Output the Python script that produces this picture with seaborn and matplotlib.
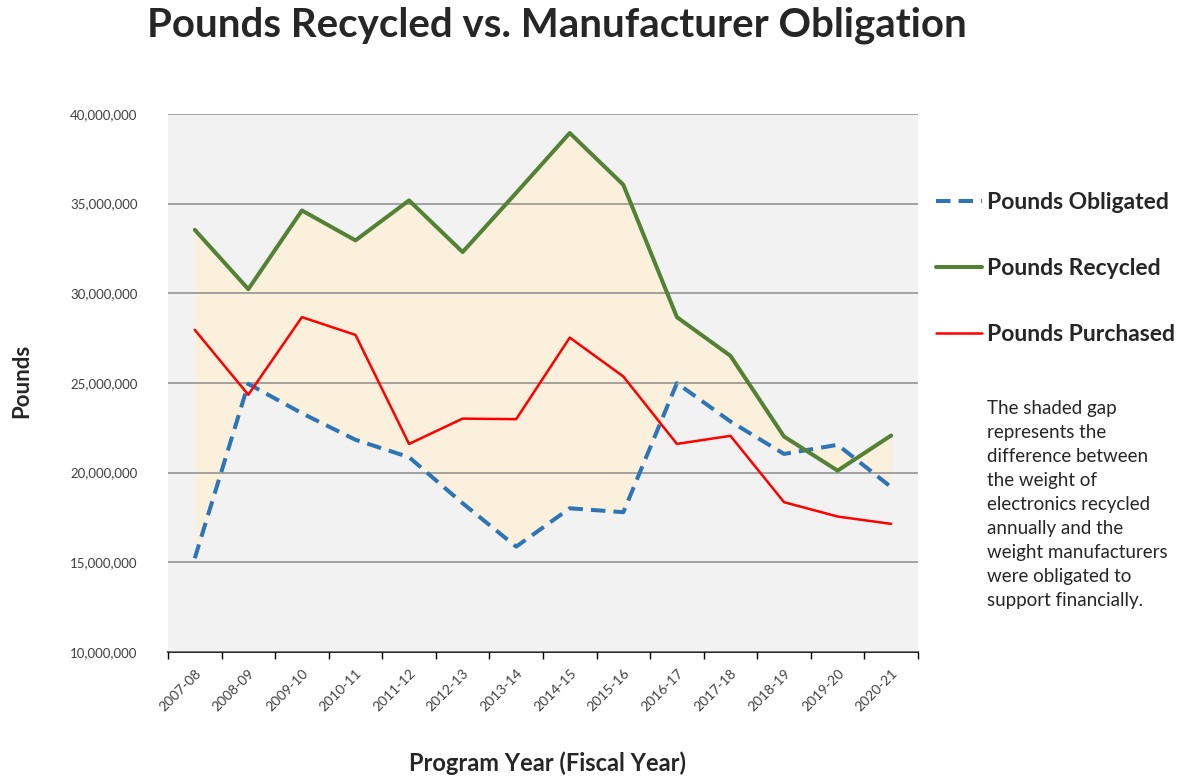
import matplotlib
matplotlib.use("Agg")
import matplotlib.pyplot as plt
import seaborn as sns
import pandas as pd
import numpy as np
from matplotlib.ticker import FuncFormatter, FixedLocator, NullFormatter
from matplotlib.lines import Line2D

years = ["2007-08", "2008-09", "2009-10", "2010-11", "2011-12", "2012-13", "2013-14",
         "2014-15", "2015-16", "2016-17", "2017-18", "2018-19", "2019-20", "2020-21"]
obligated = [15.22, 24.95, 23.31, 21.83, 20.86, 18.29, 15.87,
             18.01, 17.79, 24.99, 22.85, 21.04, 21.55, 19.19]
recycled = [33.54, 30.23, 34.62, 32.95, 35.18, 32.30, 35.60,
            38.94, 36.05, 28.67, 26.51, 22.01, 20.11, 22.07]
purchased = [27.96, 24.34, 28.67, 27.68, 21.60, 23.01, 22.98,
             27.53, 25.36, 21.60, 22.05, 18.35, 17.55, 17.14]
yticks = [10, 15, 20, 25, 30, 35, 40]

sns.set_style("white")
plt.rcParams["font.family"] = ["Lato", "DejaVu Sans"]

x = np.arange(len(years))
df = pd.DataFrame({
    "x": np.tile(x, 3),
    "value": np.array(obligated + recycled + purchased) * 1e6,
    "series": ["Pounds Obligated"] * 14 + ["Pounds Recycled"] * 14 + ["Pounds Purchased"] * 14,
})

fig = plt.figure(figsize=(11.88, 7.77), dpi=100)
ax = fig.add_axes([0.1414, 0.161, 0.6313, 0.6923])
ax.set_facecolor("#F2F2F2")

ax.fill_between(x, np.array(obligated) * 1e6, np.array(recycled) * 1e6,
                color="#FAF0DC", linewidth=0, zorder=1)

palette = {"Pounds Obligated": "#2E75B6", "Pounds Recycled": "#548235", "Pounds Purchased": "#FF0000"}
sns.lineplot(data=df, x="x", y="value", hue="series", palette=palette, ax=ax,
             legend=False, zorder=3)
lines = ax.get_lines()
widths = [2.9, 2.9, 1.8]
dash = [3.6, 2.0]
for ln, w in zip(lines, widths):
    ln.set_linewidth(w)
lines[0].set_dashes(dash)
lines[0].set_dash_capstyle("butt")

ax.set_xlim(-0.5, 13.5)
ax.set_ylim(10e6, 40e6)
ax.set_yticks([v * 1e6 for v in yticks])
ax.yaxis.set_major_formatter(FuncFormatter(lambda v, p: f"{int(v):,}"))
ax.grid(axis="y", color="#8C8C8C", linewidth=1.1, zorder=2)
ax.set_axisbelow(False)
for gl in ax.get_ygridlines():
    gl.set_zorder(2)

ax.set_xticks(x)
ax.set_xticklabels(years, rotation=45, ha="right", rotation_mode="anchor", fontsize=10, color="#404040")
ax.tick_params(axis="x", which="major", length=0, pad=11)
ax.xaxis.set_minor_locator(FixedLocator(np.arange(-0.5, 14, 1)))
ax.xaxis.set_minor_formatter(NullFormatter())
ax.tick_params(axis="x", which="minor", bottom=True, length=5, width=1, color="black", direction="out")
ax.tick_params(axis="y", length=0, pad=22, labelsize=9.5, labelcolor="#404040")

for s in ["top", "right", "left"]:
    ax.spines[s].set_visible(False)
ax.spines["bottom"].set_color("black")
ax.spines["bottom"].set_linewidth(1.2)

ax.set_xlabel("")
ax.set_ylabel("")
fig.text(0.461, 0.018, "Program Year (Fiscal Year)", ha="center", va="center",
         fontsize=17, fontweight="bold")
fig.text(0.018, 0.51, "Pounds", ha="center", va="center", rotation=90,
         fontsize=16, fontweight="bold")
fig.text(0.469, 0.968, "Pounds Recycled vs. Manufacturer Obligation", ha="center", va="center",
         fontsize=29, fontweight="bold")

handles = [Line2D([], [], color="#2E75B6", lw=2.9, dashes=dash, dash_capstyle="butt"),
           Line2D([], [], color="#548235", lw=2.9),
           Line2D([], [], color="#FF0000", lw=1.8)]
leg = fig.legend(handles, ["Pounds Obligated", "Pounds Recycled", "Pounds Purchased"],
                 loc="upper left", bbox_to_anchor=(0.788, 0.753), frameon=False,
                 borderpad=0, borderaxespad=0,
                 prop={"weight": "bold", "size": 16.5}, handlelength=2.0, labelspacing=1.97,
                 handletextpad=0.2)

note = ("The shaded gap\nrepresents the\ndifference between\nthe weight of\nelectronics recycled\n"
        "annually and the\nweight manufacturers\nwere obligated to\nsupport financially.")
fig.text(0.831, 0.485, note, ha="left", va="top", fontsize=13.5, linespacing=1.5)

fig.savefig("out.png", dpi=100, facecolor="white")
